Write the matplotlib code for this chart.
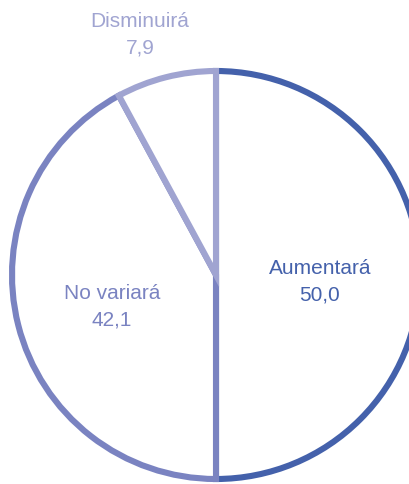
import matplotlib.pyplot as plt

labels = ["Aumentará", "No variará", "Disminuirá"]
values = [50.0, 42.1, 7.9]
colors = ["#4461ab", "#7a83c1", "#a0a4d1"]
# label centres in figure pixels (from top-left)
label_pos = [(320, 282), (112, 307), (140, 35)]

W, H = 409, 484
fig = plt.figure(figsize=(W / 100, H / 100), dpi=100)

cx, cy, r = 216, 275, 204
ax = fig.add_axes([(cx - r) / W, (H - cy - r) / H, 2 * r / W, 2 * r / H])
wedges, _ = ax.pie(values, colors=["white"] * 3, startangle=90, counterclock=False,
                   radius=1, wedgeprops=dict(linewidth=4.4))
for w, c in zip(wedges, colors):
    w.set_edgecolor(c)
    w.set_clip_on(False)
ax.set_xlim(-1, 1)
ax.set_ylim(-1, 1)
ax.set_aspect("auto")
ax.axis("off")

for lab, v, c, (x, y) in zip(labels, values, colors, label_pos):
    txt = f"{lab}\n{v:.1f}".replace(".", ",")
    fig.text(x / W, 1 - y / H, txt, ha="center", va="center", color=c,
             fontsize=15, family="Liberation Sans", linespacing=1.5)

fig.savefig("out.png", dpi=100)
